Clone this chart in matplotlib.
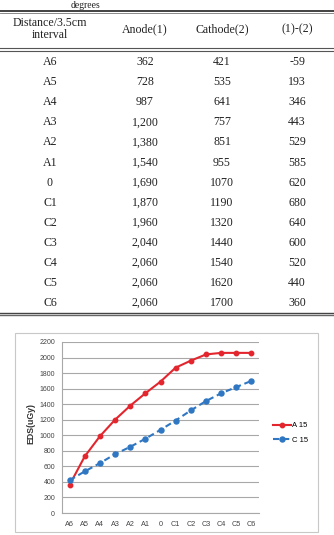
import matplotlib.pyplot as plt
from matplotlib.lines import Line2D
from matplotlib.patches import Rectangle

W, H = 334, 535

positions = ['A6', 'A5', 'A4', 'A3', 'A2', 'A1', '0', 'C1', 'C2', 'C3', 'C4', 'C5', 'C6']
anode = [362, 728, 987, 1200, 1380, 1540, 1690, 1870, 1960, 2040, 2060, 2060, 2060]
cathode = [421, 535, 641, 757, 851, 955, 1070, 1190, 1320, 1440, 1540, 1620, 1700]
anode_txt = ['362', '728', '987', '1,200', '1,380', '1,540', '1,690', '1,870', '1,960',
             '2,040', '2,060', '2,060', '2,060']
cathode_txt = ['421', '535', '641', '757', '851', '955', '1070', '1190', '1320',
               '1440', '1540', '1620', '1700']
diff_txt = ['-59', '193', '346', '443', '529', '585', '620', '680', '640', '600', '520', '440', '360']
headers = ['Distance/3.5cm\ninterval', 'Anode(1)', 'Cathode(2)', '(1)-(2)']
yticks = list(range(0, 2201, 200))


def fx(px):
    return px / W


def fy(py):
    return 1 - py / H


fig = plt.figure(figsize=(W / 100, H / 100), dpi=100)

# ---- table ----
serif = 'Liberation Serif'
tcol = '#222222'
fig.text(fx(86), fy(0.5), 'degrees', family=serif, fontsize=7, color=tcol,
         ha='center', va='top')


def hline(py, lw, color='#333333'):
    fig.add_artist(Line2D([0, 1], [fy(py), fy(py)], lw=lw, color=color,
                          transform=fig.transFigure))


hline(10.5, 1.3)
hline(13, 0.6, '#777777')
hline(48, 0.8, '#555555')
hline(50.5, 0.8, '#555555')
hline(312.5, 1.0, '#444444')
hline(315, 1.0, '#666666')

col_x = [50, 145, 222, 297]
for x, h in zip(col_x, headers):
    fig.text(fx(x), fy(29), h, family=serif, fontsize=8.6, color=tcol,
             ha='center', va='center', linespacing=0.95)

for i in range(len(positions)):
    y = fy(62 + i * 20.1)
    row = [positions[i], anode_txt[i], cathode_txt[i], diff_txt[i]]
    for x, t in zip(col_x, row):
        fig.text(fx(x), y, t, family=serif, fontsize=8.6, color=tcol,
                 ha='center', va='center')

# ---- chart ----
fig.add_artist(Rectangle((fx(15), fy(532)), fx(318) - fx(15), fy(333) - fy(532),
                         transform=fig.transFigure, fill=False, ec='#c8c8c8', lw=0.8))

ax = fig.add_axes([fx(62), fy(513), fx(259) - fx(62), fy(342) - fy(513)])
x = list(range(len(positions)))
ax.plot(x, anode, color='#e3262e', lw=1.5, marker='o', ms=3.2, label='A 15', zorder=3)
ax.plot(x, cathode, color='#2f77c3', lw=1.5, ls=(0, (3, 1.8)), marker='o', ms=3.6,
        label='C 15', zorder=3)

ax.set_xlim(-0.5, len(positions) - 0.5)
ax.set_ylim(0, 2200)
ax.set_yticks(yticks)
ax.set_xticks(x)
ax.set_xticklabels(positions)
sans = 'Liberation Sans'
ax.tick_params(axis='y', length=0, pad=5, labelsize=5, labelcolor='#444444')
ax.tick_params(axis='x', length=0, pad=6, labelsize=5.2, labelcolor='#444444')
for lab in ax.get_xticklabels() + ax.get_yticklabels():
    lab.set_family(sans)
ax.grid(axis='y', color='#a8a8a8', lw=0.8)
ax.set_axisbelow(True)
for s in ['top', 'right']:
    ax.spines[s].set_visible(False)
for s in ['left', 'bottom']:
    ax.spines[s].set_color('#a8a8a8')
    ax.spines[s].set_linewidth(0.8)

fig.text(fx(31), fy(423), 'EDS(uGy)', rotation=90, family=sans, fontsize=6.3,
         fontweight='bold', color='#333333', ha='center', va='center')

ax.legend(loc='center left', bbox_to_anchor=(fx(266), fy(433)),
          bbox_transform=fig.transFigure, frameon=False,
          handlelength=2.4, labelspacing=1.0, handletextpad=0.1,
          prop={'family': sans, 'size': 5.5})

fig.savefig('out.png', dpi=100)
